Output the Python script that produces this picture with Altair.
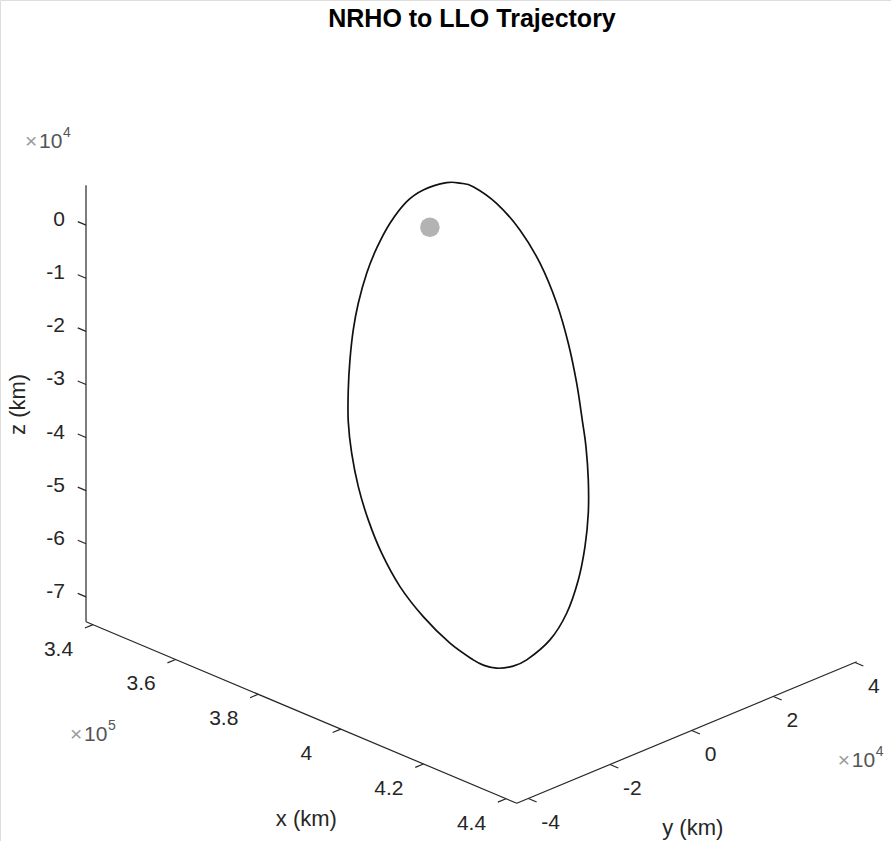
import altair as alt
import pandas as pd

# ---------------- data (km) ----------------
X_LIM = [338300, 442600]
Y_LIM = [-42840, 40400]
Z_LIM = [-74680, 7530]

x_tick_values = [340000, 360000, 380000, 400000, 420000, 440000]
x_tick_labels = ["3.4", "3.6", "3.8", "4", "4.2", "4.4"]
y_tick_values = [-40000, -20000, 0, 20000, 40000]
y_tick_labels = ["-4", "-2", "0", "2", "4"]
z_tick_values = [0, -10000, -20000, -30000, -40000, -50000, -60000, -70000]
z_tick_labels = ["0", "-1", "-2", "-3", "-4", "-5", "-6", "-7"]

orbit_x = [380000, 380000, 380000, 381000, 383000, 385000, 387000, 390000, 392000,
           395000, 396000, 398000, 400000, 403000, 405000, 407000, 408000, 410000,
           410000, 410000, 410000, 410000, 408000, 407000, 405000, 403000, 401000,
           399000, 397000, 395000, 393000, 391000, 389000, 387000, 386000, 384000,
           383000, 381000, 380000]
orbit_y = [3300, 6600, 9800, 14500, 18200, 21100, 23160, 22970, 23000,
           21390, 21230, 19780, 17750, 13910, 10250, 5380, 280, -7440,
           -11040, -14790, -17900, -20520, -24200, -29730, -33410, -35870, -37130,
           -37550, -37150, -35960, -33940, -31500, -28670, -25420, -22350, -17880,
           -13610, -7500, -2420]
orbit_z = [6900, 5750, 4070, -240, -5790, -12330, -19870, -26350, -33240,
           -38970, -43300, -48450, -53420, -57500, -61940, -66000, -69060, -69700,
           -69770, -68910, -67390, -65510, -61850, -55400, -49220, -42800, -36780,
           -31030, -25530, -20610, -15950, -11730, -7650, -4310, 30, 2650,
           5660, 7120, 7370]

moon_x = [379200]
moon_y = [0]
moon_z = [-700]

TITLE = "NRHO to LLO Trajectory"

# ---------------- view / style ----------------
W, H = 891, 841
ORIGIN = (86.0, 621.7)           # screen position of (xmin, ymin, zmin)
HX, HY = 4.13e-3, 4.084e-3       # screen-x per km of x, y
VX, VY, VZ = 1.741e-3, -1.70e-3, -5.31e-3   # screen-y (down) per km of x, y, z
TL = 2000                        # tick length, km
FONT = "Liberation Sans"
AXC = "#262626"
TICK_FS = 21
LABEL_FS = 22


def sx_expr(px, py):
    return (f"{ORIGIN[0]} + {HX}*(datum.{px} - ({X_LIM[0]})) + "
            f"{HY}*(datum.{py} - ({Y_LIM[0]}))")


def sy_expr(px, py, pz):
    return (f"{ORIGIN[1]} + {VX}*(datum.{px} - ({X_LIM[0]})) + "
            f"{VY}*(datum.{py} - ({Y_LIM[0]})) + {VZ}*(datum.{pz} - ({Z_LIM[0]}))")


XS = alt.Scale(domain=[0, W], nice=False, zero=False)
YS = alt.Scale(domain=[0, H], reverse=True, nice=False, zero=False)


def proj(df, second=False):
    c = alt.Chart(df).transform_calculate(
        sx=sx_expr("px", "py"), sy=sy_expr("px", "py", "pz"))
    if second:
        c = c.transform_calculate(
            sx2=sx_expr("qx", "qy"), sy2=sy_expr("qx", "qy", "qz"))
    return c


def enc_xy(c, second=False, **kw):
    e = dict(x=alt.X("sx:Q", scale=XS, axis=None),
             y=alt.Y("sy:Q", scale=YS, axis=None))
    if second:
        e["x2"] = "sx2:Q"
        e["y2"] = "sy2:Q"
    e.update(kw)
    return c.encode(**e)


xmin, xmax = X_LIM
ymin, ymax = Y_LIM
zmin, zmax = Z_LIM

# axis lines
axes_df = pd.DataFrame({
    "px": [xmin, xmax, xmin], "py": [ymin, ymin, ymin], "pz": [zmin, zmin, zmin],
    "qx": [xmax, xmax, xmin], "qy": [ymin, ymax, ymin], "qz": [zmin, zmin, zmax],
})
axes_layer = enc_xy(proj(axes_df, True).mark_rule(color=AXC, strokeWidth=1.2), True)

# ticks
xt = pd.DataFrame({"px": x_tick_values, "py": ymin, "pz": zmin,
                   "qx": x_tick_values, "qy": ymin - TL, "qz": zmin, "lab": x_tick_labels})
yt = pd.DataFrame({"px": xmax, "py": y_tick_values, "pz": zmin,
                   "qx": xmax + TL, "qy": y_tick_values, "qz": zmin, "lab": y_tick_labels})
zt = pd.DataFrame({"px": xmin, "py": ymin, "pz": z_tick_values,
                   "qx": xmin - TL, "qy": ymin, "qz": z_tick_values, "lab": z_tick_labels})
ticks_df = pd.concat([xt, yt, zt], ignore_index=True)
ticks_layer = enc_xy(proj(ticks_df, True).mark_rule(color=AXC, strokeWidth=1.2), True)

txt = dict(font=FONT, fontSize=TICK_FS, color=AXC, baseline="middle")
xlab = enc_xy(proj(xt).mark_text(align="center", dx=-34.5, dy=25, **txt), text="lab:N")
ylab = enc_xy(proj(yt).mark_text(align="left", dx=13, dy=25, **txt), text="lab:N")
zlab = enc_xy(proj(zt).mark_text(align="right", dx=-21, dy=-5, **txt), text="lab:N")

# axis titles
xt_df = pd.DataFrame({"px": [(xmin + xmax) / 2], "py": [ymin], "pz": [zmin], "t": ["x (km)"]})
yt_df = pd.DataFrame({"px": [xmax], "py": [(ymin + ymax) / 2], "pz": [zmin], "t": ["y (km)"]})
zt_df = pd.DataFrame({"px": [xmin], "py": [ymin], "pz": [(zmin + zmax) / 2], "t": ["z (km)"]})
lab = dict(font=FONT, fontSize=LABEL_FS, color=AXC, baseline="middle", align="center")
xtitle = enc_xy(proj(xt_df).mark_text(dx=5, dy=107, **lab), text="t:N")
ytitle = enc_xy(proj(yt_df).mark_text(dx=6, dy=95, **lab), text="t:N")
# rotated text: dx runs along the text (screen up), dy across it (screen right)
ztitle = enc_xy(proj(zt_df).mark_text(dx=-1, dy=-68, angle=270, **lab), text="t:N")

# exponent multipliers
mult_z = pd.DataFrame({"px": [xmin], "py": [ymin], "pz": [zmax]})
mult_x = pd.DataFrame({"px": [xmin], "py": [ymin], "pz": [zmin]})
mult_y = pd.DataFrame({"px": [xmax], "py": [ymax], "pz": [zmin]})
MC = "#555555"
XC = "#9a9a9a"


def mult(df, dx, dy, power):
    a = enc_xy(proj(df).mark_text(text="\u00d7", align="left", dx=dx, dy=dy,
                                  font=FONT, fontSize=TICK_FS, color=XC, baseline="middle"))
    b = enc_xy(proj(df).mark_text(text="10", align="left", dx=dx + 14, dy=dy,
                                  font=FONT, fontSize=TICK_FS, color=MC, baseline="middle"))
    c = enc_xy(proj(df).mark_text(text=power, align="left", dx=dx + 38, dy=dy - 9,
                                  font=FONT, fontSize=14, color=MC, baseline="middle"))
    return [a, b, c]


mults = (mult(mult_z, -61, -43, "4") + mult(mult_x, -16, 113, "5")
         + mult(mult_y, -19, 99, "4"))

# orbit and moon
orbit_df = pd.DataFrame({"px": orbit_x, "py": orbit_y, "pz": orbit_z,
                         "i": list(range(len(orbit_x)))})
orbit_layer = enc_xy(proj(orbit_df).mark_line(interpolate="cardinal-closed",
                                               color="#111111", strokeWidth=1.7),
                     order="i:Q")
moon_df = pd.DataFrame({"px": moon_x, "py": moon_y, "pz": moon_z})
moon_layer = enc_xy(proj(moon_df).mark_circle(size=380, color="#b3b3b3", opacity=1))

title_layer = alt.Chart(pd.DataFrame({"t": [TITLE]})).mark_text(
    font=FONT, fontSize=25, fontWeight="bold", color="#000000",
    align="center", baseline="middle").encode(
    x=alt.value(472), y=alt.value(19), text="t:N")

chart = alt.layer(
    axes_layer, ticks_layer, xlab, ylab, zlab, xtitle, ytitle, ztitle,
    *mults, orbit_layer, moon_layer, title_layer
).properties(
    width=W, height=H, padding=0, autosize=alt.AutoSizeParams(type="none")
).configure_view(stroke=None).configure(background="white")

chart.save("out.html", embed_options={"renderer": "svg", "actions": False})
